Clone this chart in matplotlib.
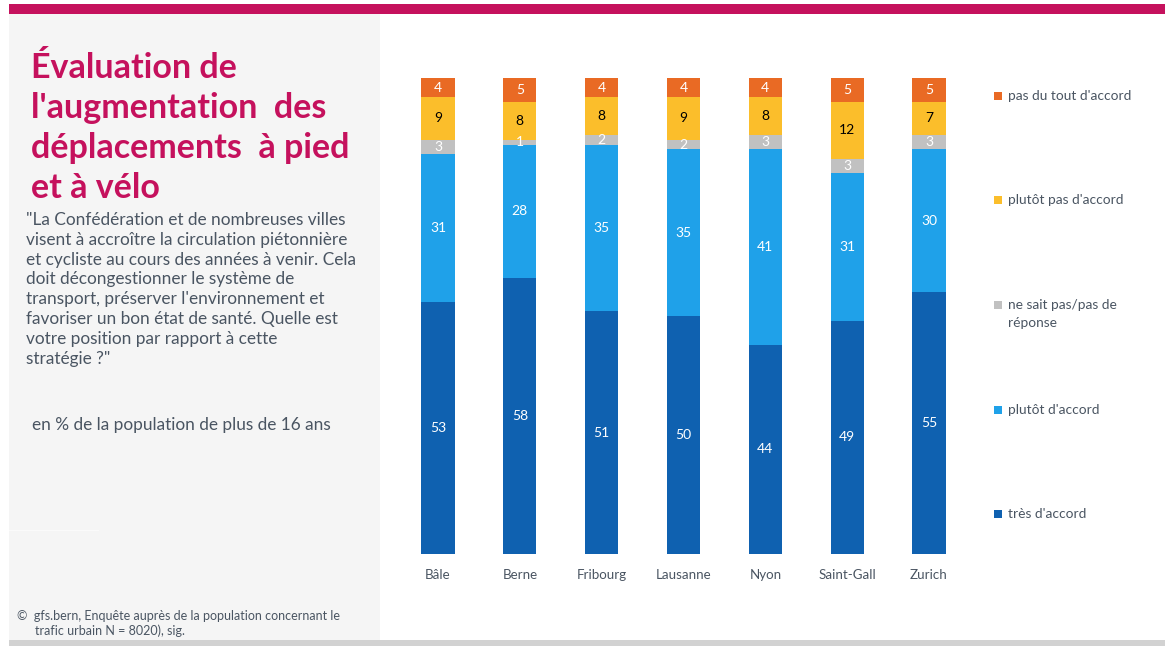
import matplotlib
matplotlib.use("Agg")
import matplotlib.pyplot as plt
from matplotlib.patches import Rectangle
import numpy as np

cities = ["Bâle", "Berne", "Fribourg", "Lausanne", "Nyon", "Saint-Gall", "Zurich"]
tres_daccord = [53, 58, 51, 50, 44, 49, 55]
plutot_daccord = [31, 28, 35, 35, 41, 31, 30]
ne_sait_pas = [3, 1, 2, 2, 3, 3, 3]
plutot_pas = [9, 8, 8, 9, 8, 12, 7]
pas_du_tout = [4, 5, 4, 4, 4, 5, 5]

series_names = ["très d'accord", "plutôt d'accord", "ne sait pas/pas de\nréponse",
                "plutôt pas d'accord", "pas du tout d'accord"]
series_values = [tres_daccord, plutot_daccord, ne_sait_pas, plutot_pas, pas_du_tout]
series_colors = ["#0F61B0", "#1FA1E9", "#C1C1C1", "#FBBE2B", "#E96A24"]
label_colors = ["white", "white", "white", "black", "white"]

W, H = 1165, 646
fig = plt.figure(figsize=(W / 100, H / 100), dpi=100)
fig.patch.set_facecolor("white")

def px(x, y):
    return x / W, 1 - y / H

FONT = ["Lato", "DejaVu Sans"]
TXT = "#4A5562"

# background decorations
fig.add_artist(Rectangle(px(9, 640), 371 / W, 626 / H, transform=fig.transFigure,
                         facecolor="#F5F5F5", edgecolor="none", zorder=0))
fig.add_artist(Rectangle(px(9, 531), 90 / W, 1.2 / H, transform=fig.transFigure,
                         facecolor="#FAFAFA", edgecolor="none", zorder=0.5))
fig.add_artist(Rectangle(px(9, 14), (W - 9) / W, 10 / H, transform=fig.transFigure,
                         facecolor="#C5115D", edgecolor="none", zorder=1))
fig.add_artist(Rectangle(px(9, 646), (W - 9) / W, 6 / H, transform=fig.transFigure,
                         facecolor="#D2D2D2", edgecolor="none", zorder=1))

# Title
title_lines = ["Évaluation de", "l'augmentation  des", "déplacements  à pied", "et à vélo"]
for i, line in enumerate(title_lines):
    fig.text(*px(31, 68 + 40 * i), line, fontsize=24.5, fontweight="bold",
             color="#C5115D", family=FONT, va="center", ha="left")

quote_lines = ['"La Confédération et de nombreuses villes',
               "visent à accroître la circulation piétonnière",
               "et cycliste au cours des années à venir. Cela",
               "doit décongestionner le système de",
               "transport, préserver l'environnement et",
               "favoriser un bon état de santé. Quelle est",
               "votre position par rapport à cette",
               'stratégie ?"']
for i, line in enumerate(quote_lines):
    fig.text(*px(26, 220 + 19.8 * i), line, fontsize=12.4, color=TXT,
             family=FONT, va="center", ha="left")

fig.text(*px(32, 425), "en % de la population de plus de 16 ans", fontsize=12.4,
         color=TXT, family=FONT, va="center", ha="left")

fig.text(*px(17, 616), "©  gfs.bern, Enquête auprès de la population concernant le",
         fontsize=9, color=TXT, family=FONT, va="center", ha="left")
fig.text(*px(35, 631), "trafic urbain N = 8020), sig.",
         fontsize=9, color=TXT, family=FONT, va="center", ha="left")

# Chart axes
spacing = 81.8
left_px = 438 - 0.6 * spacing
right_px = 929 + 0.6 * spacing
top_px, bottom_px = 78, 554
ax = fig.add_axes([left_px / W, 1 - bottom_px / H, (right_px - left_px) / W,
                   (bottom_px - top_px) / H])
ax.set_facecolor("none")
x = np.arange(len(cities))
bottom = np.zeros(len(cities))
for vals, col, lc in zip(series_values, series_colors, label_colors):
    vals = np.array(vals, dtype=float)
    ax.bar(x, vals, bottom=bottom, width=0.405, color=col, edgecolor="none")
    for xi, b, v in zip(x, bottom, vals):
        ax.text(xi, b + v / 2, f"{int(v)}", ha="center", va="center",
                fontsize=10, color=lc, family=FONT)
    bottom += vals
ax.set_xlim(-0.6, len(cities) - 0.4)
ax.set_ylim(0, 100)
for s in ax.spines.values():
    s.set_visible(False)
ax.set_yticks([])
ax.set_xticks(x)
ax.set_xticklabels(cities, fontsize=9.6, color=TXT, family=FONT)
ax.tick_params(axis="x", length=0, pad=11)

# Legend
legend_y = [514, 410, 305, 200, 96]
for name, col, ly in zip(series_names, series_colors, legend_y):
    fig.add_artist(Rectangle(px(994, ly + 4), 8 / W, 8 / H, transform=fig.transFigure,
                             facecolor=col, edgecolor="none"))
    lines = name.split("\n")
    for j, ln in enumerate(lines):
        fig.text(*px(1008, ly + 18 * j), ln, fontsize=9.9, color=TXT,
                 family=FONT, va="center", ha="left")

fig.savefig("out.png", dpi=100)
